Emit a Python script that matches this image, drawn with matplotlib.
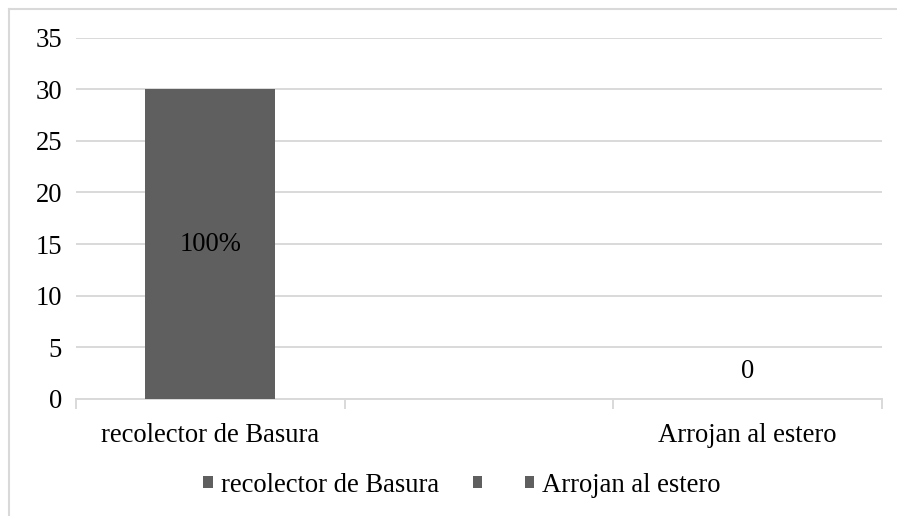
import numpy as np
import matplotlib.pyplot as plt
from matplotlib.patches import Patch
from matplotlib.lines import Line2D

categories = ['recolector de Basura', '', 'Arrojan al estero']
values = [30, np.nan, 0]
bar_labels = ['100%', '', '0']
yticks = [0, 5, 10, 15, 20, 25, 30, 35]

plt.rcParams['font.family'] = ['Liberation Serif', 'DejaVu Serif']
plt.rcParams['font.size'] = 19.2

W, H = 897, 516
fig = plt.figure(figsize=(W / 100, H / 100), dpi=100)
ax = fig.add_axes([76 / W, 1 - 399 / H, (882 - 76) / W, (399 - 37.5) / H])

bar_color = '#5f5f5f'
x = np.arange(len(categories))
heights = [0 if np.isnan(v) else v for v in values]
bars = ax.bar(x, heights, width=0.485, color=bar_color, zorder=3)

# etiquetas de datos
ax.text(x[0], values[0] / 2, bar_labels[0], ha='center', va='center', zorder=4)
ax.annotate(bar_labels[2], (x[2], values[2]), xytext=(0, 19.5), textcoords='offset points',
            ha='center', va='center')

ax.set_xlim(-0.5, len(categories) - 0.5)
ax.set_ylim(0, 35)
ax.set_yticks(yticks)
ax.yaxis.grid(True, color='#d9d9d9', linewidth=1.4, zorder=0)
ax.tick_params(axis='y', length=0, pad=10)

ax.set_xticks(x)
ax.set_xticklabels(categories)
ax.set_xticks(np.arange(-0.5, len(categories)), minor=True)
ax.tick_params(axis='x', which='major', length=0, pad=17)
ax.tick_params(axis='x', which='minor', length=7, color='#d9d9d9', width=1.4)

for s in ['top', 'right', 'left']:
    ax.spines[s].set_visible(False)
ax.spines['bottom'].set_color('#d9d9d9')
ax.spines['bottom'].set_linewidth(1.4)

handles = [Patch(facecolor=bar_color, edgecolor='none') for _ in categories]
ax.legend(handles, categories, loc='center', bbox_to_anchor=(462 / W, 1 - 485 / H),
          bbox_transform=fig.transFigure, ncol=3, frameon=False,
          handlelength=0.35, handleheight=0.35, handletextpad=0.3, columnspacing=1.29)

# borde del gráfico (solo izquierdo y superior visibles)
fig.add_artist(Line2D([8.5 / W, 8.5 / W], [0, 1 - 8.5 / H], transform=fig.transFigure,
                      color='#d9d9d9', linewidth=1.5))
fig.add_artist(Line2D([8.5 / W, 1], [1 - 8.5 / H, 1 - 8.5 / H], transform=fig.transFigure,
                      color='#d9d9d9', linewidth=1.5))

fig.savefig('out.png', dpi=100)
